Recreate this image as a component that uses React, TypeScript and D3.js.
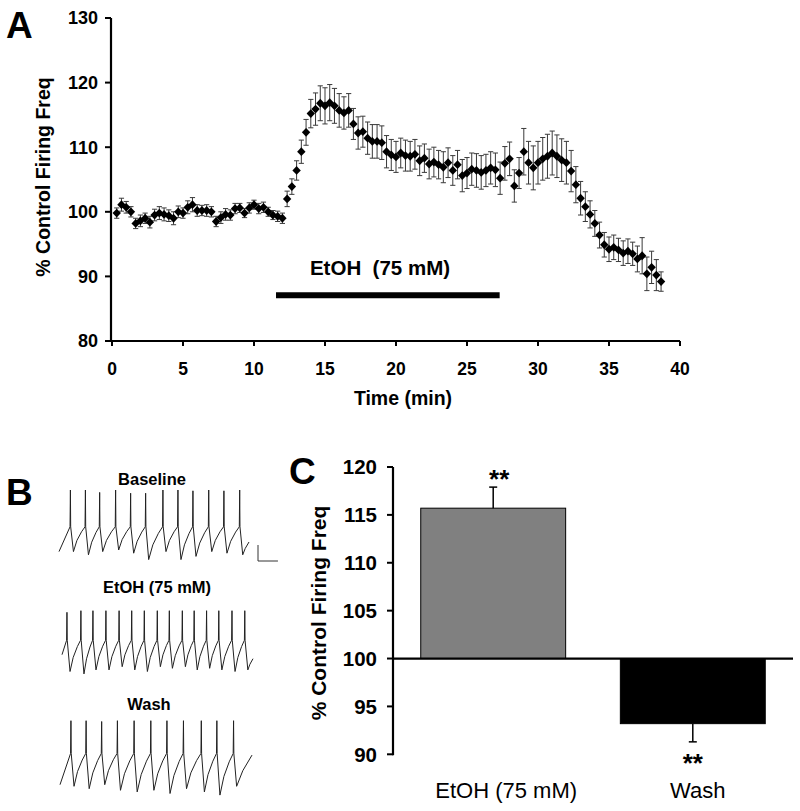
import React from 'react';
import * as d3 from 'd3';

// ---------- Panel A data ----------
const sampleIntervalMin = 1 / 3;
const firingPct = [
  99.8, 101.1, 100.7, 100.0, 98.2, 98.6, 99.0, 98.4, 99.5, 99.8,
  99.6, 99.4, 99.0, 100.0, 99.8, 100.7, 101.1, 100.2, 100.2, 100.2,
  100.0, 98.5, 99.1, 99.6, 99.5, 100.5, 100.6, 99.8, 100.6, 101.1,
  100.5, 100.7, 100.0, 99.5, 99.3, 99.0, 102.0, 103.9, 106.4, 109.3,
  112.3, 115.2, 115.9, 116.8, 116.4, 116.9, 116.4, 115.7, 115.3, 115.7,
  113.6, 112.2, 112.4, 111.4, 110.9, 110.9, 110.7, 109.3, 108.8, 108.5,
  109.1, 108.7, 108.6, 108.9, 107.9, 108.3, 107.4, 107.7, 107.3, 106.9,
  107.6, 106.4, 107.3, 105.6, 106.0, 106.6, 106.4, 106.1, 106.4, 106.8,
  106.5, 105.2, 107.5, 108.2, 104.0, 106.0, 109.3, 107.6, 106.8, 107.6,
  108.2, 108.6, 109.1, 108.6, 108.0, 107.6, 106.3, 104.2, 102.1, 100.8,
  99.6, 98.2, 96.4, 94.9, 94.2, 94.5, 94.1, 93.6, 93.9, 93.5,
  92.7, 93.2, 90.4, 91.4, 90.2, 89.2,
];
const firingSem = [
  0.8, 1.0, 0.9, 0.8, 0.8, 0.9, 0.8, 0.9, 0.9, 1.0,
  1.0, 0.9, 1.0, 0.9, 0.8, 1.0, 1.1, 0.9, 0.8, 0.9,
  0.8, 0.8, 0.9, 0.9, 0.8, 0.8, 0.7, 0.7, 0.8, 0.7,
  0.8, 0.8, 0.7, 0.7, 0.8, 0.8, 1.2, 1.2, 1.5, 1.8,
  2.0, 2.2, 2.5, 2.7, 2.8, 2.8, 2.7, 2.6, 2.5, 2.6,
  2.4, 2.5, 2.4, 2.5, 2.6, 2.6, 2.6, 2.5, 2.4, 2.4,
  2.3, 2.4, 2.3, 2.3, 2.3, 2.2, 2.3, 2.3, 2.2, 2.4,
  2.3, 2.3, 2.2, 2.5, 2.4, 2.5, 2.6, 2.6, 2.5, 2.5,
  2.6, 2.5, 2.6, 2.6, 2.5, 2.4, 3.6, 3.3, 3.4, 3.3,
  3.3, 3.4, 3.4, 3.3, 3.3, 3.3, 3.2, 2.8, 2.6, 2.3,
  2.1, 2.0, 2.0, 1.9, 1.9, 1.9, 1.8, 1.9, 1.9, 1.8,
  2.0, 2.8, 2.6, 2.5, 2.4, 1.5,
];
const etohWindowMin = [11.55, 27.3];
const etohBarLevel = 87.1;
const etohLabelA = 'EtOH\u00a0\u00a0(75 mM)';
const xTicksA = [0, 5, 10, 15, 20, 25, 30, 35, 40];
const yTicksA = [80, 90, 100, 110, 120, 130];

// ---------- Panel B data (trace time in s, voltage in mV) ----------
const baselineSpikeT = [0.6, 1.39, 2.14, 2.98, 3.77, 4.56, 5.47, 6.26, 7.05, 7.88, 8.68, 9.51];
const baselinePeakMv = [20, 20, 17, 20, 16, 16, 20, 20, 19, 20, 19, 20];
const baselineTroughMv = [-57, -61, -57, -55, -59, -67, -57, -67, -63, -57, -59, -61];
const etohSpikeT = [0.26, 0.99, 1.62, 2.3, 2.99, 3.65, 4.31, 4.99, 5.62, 6.3, 6.92, 7.57, 8.21, 8.9, 9.57];
const etohPeakMv = [18, 20, 20, 20, 20, 20, 20, 20, 20, 20, 20, 20, 20, 20, 20];
const etohTroughMv = [-56, -59, -54, -54, -50, -54, -56, -50, -52, -50, -54, -52, -54, -56, -54];
const washSpikeT = [0.57, 1.36, 2.17, 2.99, 3.86, 4.73, 5.57, 6.43, 7.36, 8.17, 9.04];
const washPeakMv = [20, 20, 19, 20, 20, 20, 20, 20, 20, 20, 20];
const washTroughMv = [-62, -65, -60, -67, -69, -67, -71, -65, -69, -73, -62];
const traceThresholdMv = [-26, -17, -21];
const traceStartMv = [-57, -35, -60];
const traceEndMv = [-45, -40, -23];
const traceLabels = ['Baseline', 'EtOH (75 mM)', 'Wash'];

// ---------- Panel C data ----------
const barCategories = ['EtOH (75 mM)', 'Wash'];
const barMeans = [115.7, 93.2];
const barSems = [2.2, 1.9];
const barSig = ['**', '**'];
const yTicksC = [90, 95, 100, 105, 110, 115, 120];

const FONT = "'Liberation Sans', Arial, Helvetica, sans-serif";

function buildTrace(spikes: number[], peaks: number[], troughs: number[], thr: number, startV: number, endV: number, tEnd: number) {
  const pts: [number, number][] = [[0, startV]];
  spikes.forEach((ts, i) => {
    if (i > 0) {
      const t0 = spikes[i - 1] + 0.16;
      const t1 = ts - 0.02;
      const tr = troughs[i - 1];
      pts.push([t0 + 0.3 * (t1 - t0), tr + 0.45 * (thr - tr)]);
      pts.push([t0 + 0.7 * (t1 - t0), tr + 0.8 * (thr - tr)]);
    }
    pts.push([ts - 0.02, thr]);
    pts.push([ts, peaks[i]]);
    pts.push([ts + 0.015, thr]);
    pts.push([ts + 0.16, troughs[i]]);
  });
  const last = spikes[spikes.length - 1] + 0.16;
  const trL = troughs[troughs.length - 1];
  pts.push([last + 0.4 * (tEnd - last), trL + 0.5 * (endV - trL)]);
  pts.push([tEnd, endV]);
  return pts;
}

export default function App() {
  // Panel A
  const xA = d3.scaleLinear().domain([0, 40]).range([112, 680]);
  const yA = d3.scaleLinear().domain([80, 130]).range([341, 18]);
  const ptsA = firingPct.map((v, i) => ({ t: (i + 1) * sampleIntervalMin, v, e: firingSem[i] }));
  const diamond = (cx: number, cy: number) => `M${cx},${cy - 4.4}L${cx + 4.2},${cy}L${cx},${cy + 4.4}L${cx - 4.2},${cy}Z`;

  // Panel B
  const traceSets = [
    { spikes: baselineSpikeT, peaks: baselinePeakMv, troughs: baselineTroughMv, xr: [59, 249], top: 490 },
    { spikes: etohSpikeT, peaks: etohPeakMv, troughs: etohTroughMv, xr: [62, 253], top: 610.7 },
    { spikes: washSpikeT, peaks: washPeakMv, troughs: washTroughMv, xr: [60, 252], top: 720.7 },
  ];
  const labelPosB = [{ x: 152, y: 485 }, { x: 157, y: 593 }, { x: 149, y: 710 }];

  // Panel C
  const yC = d3.scaleLinear().domain([90, 120]).range([754.3, 467]);
  const xC = d3.scaleBand<string>().domain(barCategories).range([393, 793]).paddingInner(0.274).paddingOuter(0.139);
  const barFill = ['#808080', '#000000'];

  return (
    <svg width={800} height={811} style={{ position: 'absolute', left: 0, top: 0, background: '#fff' }} fontFamily={FONT}>
      <rect x={0} y={0} width={800} height={811} fill="#fff" />
      {/* ===== Panel A ===== */}
      <text x={6} y={38} fontSize={37} fontWeight="bold">A</text>
      <g stroke="#3a3a3a" strokeWidth={1}>
        {ptsA.map((p, i) => {
          const cx = xA(p.t);
          const y1 = yA(p.v - p.e);
          const y2 = yA(p.v + p.e);
          return (
            <g key={i}>
              <line x1={cx} x2={cx} y1={y1} y2={y2} />
              <line x1={cx - 2.6} x2={cx + 2.6} y1={y1} y2={y1} />
              <line x1={cx - 2.6} x2={cx + 2.6} y1={y2} y2={y2} />
            </g>
          );
        })}
      </g>
      <g fill="#000">
        {ptsA.map((p, i) => (
          <path key={i} d={diamond(xA(p.t), yA(p.v))} />
        ))}
      </g>
      <line x1={111} x2={111} y1={yA(130)} y2={yA(80) + 1} stroke="#000" strokeWidth={2.2} />
      <line x1={110} x2={xA(40)} y1={yA(80)} y2={yA(80)} stroke="#000" strokeWidth={2.2} />
      {yTicksA.map((t) => (
        <g key={t}>
          <line x1={105} x2={111} y1={yA(t)} y2={yA(t)} stroke="#000" strokeWidth={2} />
          <text x={98} y={yA(t)} dy="0.36em" textAnchor="end" fontSize={18} fontWeight="bold">{t}</text>
        </g>
      ))}
      {xTicksA.map((t) => (
        <g key={t}>
          <line x1={xA(t)} x2={xA(t)} y1={yA(80)} y2={yA(80) + 5} stroke="#000" strokeWidth={2} />
          <text x={xA(t)} y={374.5} textAnchor="middle" fontSize={17.5} fontWeight="bold">{t}</text>
        </g>
      ))}
      <text x={403} y={405} textAnchor="middle" fontSize={19.5} fontWeight="bold">Time (min)</text>
      <text transform={`translate(50,177) rotate(-90)`} textAnchor="middle" fontSize={19.5} fontWeight="bold">% Control Firing Freq</text>
      <line x1={xA(etohWindowMin[0])} x2={xA(etohWindowMin[1])} y1={yA(etohBarLevel)} y2={yA(etohBarLevel)} stroke="#000" strokeWidth={6} />
      <text x={380} y={275} textAnchor="middle" fontSize={20.5} fontWeight="bold">{etohLabelA}</text>

      {/* ===== Panel B ===== */}
      <text x={6} y={505} fontSize={37} fontWeight="bold">B</text>
      {traceSets.map((s, k) => {
        const xs = d3.scaleLinear().domain([0, 10]).range(s.xr as [number, number]);
        const ys = d3.scaleLinear().domain([-60, 20]).range([s.top + 64, s.top]);
        const pts = buildTrace(s.spikes, s.peaks, s.troughs, traceThresholdMv[k], traceStartMv[k], traceEndMv[k], 10);
        const line = d3.line<[number, number]>().x((d) => xs(d[0])).y((d) => ys(d[1]));
        return (
          <g key={k}>
            <path d={line(pts) || ''} fill="none" stroke="#222" strokeWidth={1} strokeLinejoin="round" />
            <text x={labelPosB[k].x} y={labelPosB[k].y} textAnchor="middle" fontSize={16.5} fontWeight="bold">{traceLabels[k]}</text>
          </g>
        );
      })}
      {(() => {
        const xs = d3.scaleLinear().domain([0, 10]).range([59, 249]);
        const ys = d3.scaleLinear().domain([-60, 20]).range([554, 490]);
        const x0 = 258;
        const y0 = 561;
        const w = xs(1.05) - xs(0);
        const h = ys(-60) - ys(-40);
        return <path d={`M${x0},${y0 - h}L${x0},${y0}L${x0 + w},${y0}`} fill="none" stroke="#333" strokeWidth={1} />;
      })()}

      {/* ===== Panel C ===== */}
      <text x={289} y={484} fontSize={37} fontWeight="bold">C</text>
      {barCategories.map((c, i) => {
        const x0 = xC(c)!;
        const w = xC.bandwidth();
        const v = barMeans[i];
        const top = Math.min(yC(v), yC(100));
        const bot = Math.max(yC(v), yC(100));
        const cx = x0 + w / 2;
        const eEnd = v >= 100 ? yC(v + barSems[i]) : yC(v - barSems[i]);
        return (
          <g key={c}>
            <rect x={x0} y={top} width={w} height={bot - top} fill={barFill[i]} stroke="#000" strokeWidth={1} />
            <line x1={cx} x2={cx} y1={yC(v)} y2={eEnd} stroke="#000" strokeWidth={1.5} />
            <line x1={cx - 4} x2={cx + 4} y1={eEnd} y2={eEnd} stroke="#000" strokeWidth={1.5} />
            <text x={v >= 100 ? cx + 6 : cx} y={v >= 100 ? eEnd + 1 : 772} textAnchor="middle" fontSize={26} fontWeight="bold">{barSig[i]}</text>
            <text x={cx + (i === 0 ? 13 : 5)} y={798} textAnchor="middle" fontSize={22}>{c}</text>
          </g>
        );
      })}
      <line x1={393} x2={393} y1={yC(120)} y2={yC(90) + 1} stroke="#000" strokeWidth={2.2} />
      <line x1={393} x2={793} y1={yC(100)} y2={yC(100)} stroke="#000" strokeWidth={2.2} />
      {yTicksC.map((t) => (
        <g key={t}>
          <line x1={387} x2={393} y1={yC(t)} y2={yC(t)} stroke="#000" strokeWidth={2} />
          <text x={377} y={yC(t)} dy="0.36em" textAnchor="end" fontSize={20.5} fontWeight="bold">{t}</text>
        </g>
      ))}
      <text transform={`translate(326,613) rotate(-90)`} textAnchor="middle" fontSize={21} fontWeight="bold">% Control Firing Freq</text>
    </svg>
  );
}
